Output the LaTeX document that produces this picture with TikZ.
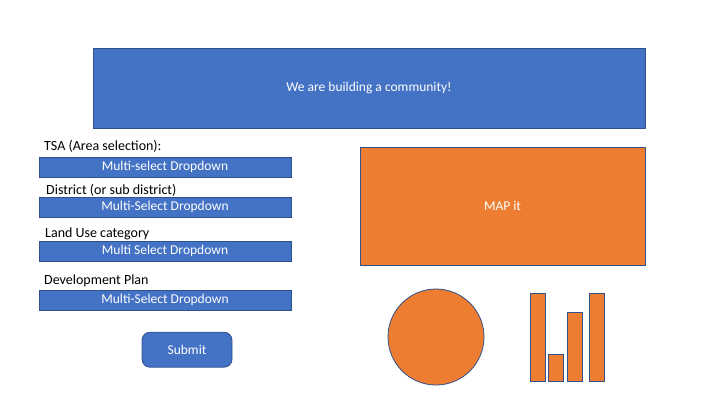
\documentclass[tikz,border=0pt]{standalone}
\usepackage{fontspec}
\setmainfont{Carlito}
\definecolor{boxblue}{HTML}{4472C4}
\definecolor{mapgold}{HTML}{ED7D31}
\definecolor{rimblue}{HTML}{2F528F}
\begin{document}
\begin{tikzpicture}[x=1pt,y=-1pt,
    panel/.style={draw=rimblue,line width=0.8pt,fill=boxblue,text=white,inner sep=0pt,outer sep=0pt,font=\fontsize{13.5}{16}\selectfont},
    dropbox/.style={panel,minimum width=252pt,minimum height=20pt},
    orange/.style={draw=rimblue,line width=0.8pt,fill=mapgold},
    fieldlabel/.style={anchor=west,inner sep=0pt,font=\fontsize{14}{16}\selectfont}]
  \useasboundingbox (0,0) rectangle (720,405);
  % header and map
  \node[panel,minimum width=552pt,minimum height=80pt] (banner) at (369,88) {We are building a community!};
  \node[panel,orange,text=white,minimum width=285pt,minimum height=118pt] (map) at (502.5,206) {MAP it};
  % form fields
  \node[fieldlabel] (tsa) at (44,146.7) {TSA (Area selection):};
  \node[dropbox] (tsabox) at (165,167) {Multi-select Dropdown};
  \node[fieldlabel] (district) at (46,190.7) {District (or sub district)};
  \node[dropbox] (districtbox) at (165,207.3) {Multi-Select Dropdown};
  \node[fieldlabel] (landuse) at (45,234) {Land Use category};
  \node[dropbox] (landusebox) at (165,251.3) {Multi Select Dropdown};
  \node[fieldlabel] (devplan) at (44,280.7) {Development Plan};
  \node[dropbox] (devplanbox) at (165,300) {Multi-Select Dropdown};
  \node[panel,rounded corners=8pt,minimum width=90pt,minimum height=35pt] (submit) at (187,349.7) {Submit};
  % charts
  \node[orange,circle,minimum size=96pt,inner sep=0pt] (pie) at (436,337) {};
  \foreach \x/\top in {530/293.3,548.3/354.3,567.3/312.3,589.3/293.3}
    \draw[orange] (\x,381.7) rectangle (\x+15.5,\top);
\end{tikzpicture}
\end{document}
